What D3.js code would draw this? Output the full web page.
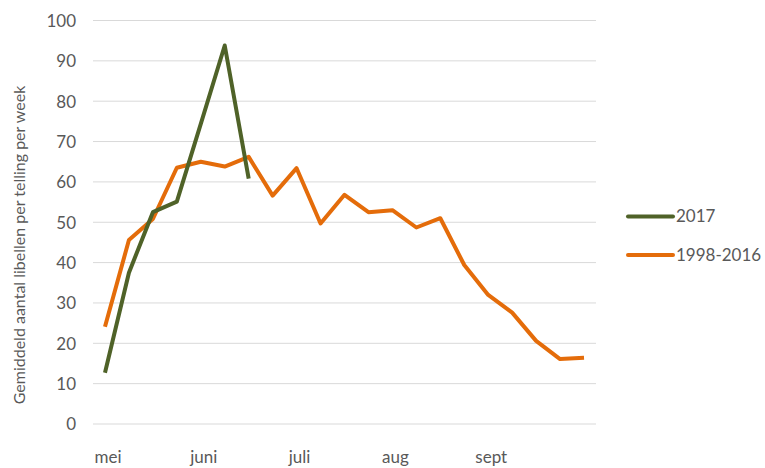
<!DOCTYPE html>
<html>
<head>
<meta charset="utf-8">
<script src="https://cdn.jsdelivr.net/npm/d3@7"></script>
<style>
  body { margin: 0; background: #fff; }
  svg text { font-family: Lato, "Open Sans", sans-serif; fill: #595959; }
</style>
</head>
<body>
<div id="chart"></div>
<script>
// week labels, only the first week of each month is labelled
var weeks = ["mei","w2","w3","w4","juni","w6","w7","w8","juli","w10","w11","w12",
             "aug","w14","w15","w16","sept","w18","w19","w20","w21"];
var monthLabels = {"mei":1,"juni":1,"juli":1,"aug":1,"sept":1};

var series2017 = [12.7, 37.5, 52.5, 55.1, 74.4, 93.8, 60.8];
var seriesAvg = [24.1, 45.6, 50.8, 63.5, 65.0, 63.8, 66.2, 56.6, 63.4, 49.7, 56.8,
                 52.5, 53.0, 48.7, 51.0, 39.4, 32.0, 27.6, 20.6, 16.1, 16.4];
var yTicks = [0,10,20,30,40,50,60,70,80,90,100];

var width = 765, height = 468;
var plotLeft = 93, plotRight = 596, plotTop = 20.5, plotBottom = 424;

var svg = d3.select("#chart").append("svg")
    .attr("width", width)
    .attr("height", height);

var x = d3.scaleBand().domain(weeks).range([plotLeft, plotRight]);
var y = d3.scaleLinear().domain([0,100]).range([plotBottom, plotTop]);

// gridlines
svg.append("g").selectAll("line")
    .data(yTicks)
    .enter().append("line")
    .attr("x1", plotLeft).attr("x2", plotRight)
    .attr("y1", d => y(d)).attr("y2", d => y(d))
    .style("stroke", "#d9d9d9")
    .style("stroke-width", 1);

// y axis labels
var yAxis = d3.axisLeft(y).tickValues(yTicks).tickSize(0).tickPadding(0);
var gy = svg.append("g").attr("transform", "translate(76,0)").call(yAxis);
gy.select(".domain").remove();
gy.selectAll("text").style("font-size", "17px").attr("dy", "0.35em");

// x axis labels
var xAxis = d3.axisBottom(x).tickSize(0).tickPadding(0)
    .tickFormat(d => monthLabels[d] ? d : "");
var gx = svg.append("g").attr("transform", "translate(3,451)").call(xAxis);
gx.select(".domain").remove();
gx.selectAll("text").style("font-size", "17px");

// axis title
svg.append("text")
    .attr("transform", "translate(25,245) rotate(-90)")
    .attr("text-anchor", "middle")
    .style("font-size", "16px")
    .text("Gemiddeld aantal libellen per telling per week");

var line = d3.line()
    .x((d,i) => x(weeks[i]) + x.bandwidth()/2)
    .y(d => y(d));

svg.append("path")
    .datum(seriesAvg)
    .attr("d", line)
    .style("fill", "none")
    .style("stroke", "#E46C0A")
    .style("stroke-width", 4)
    .style("stroke-linejoin", "round");

svg.append("path")
    .datum(series2017)
    .attr("d", line)
    .style("fill", "none")
    .style("stroke", "#4F6228")
    .style("stroke-width", 4)
    .style("stroke-linejoin", "round");

// legend
var legend = [["2017","#4F6228"],["1998-2016","#E46C0A"]];
var lg = svg.append("g").selectAll("g")
    .data(legend)
    .enter().append("g")
    .attr("transform", (d,i) => "translate(628," + (216.5 + i*38.5) + ")");
lg.append("line")
    .attr("x1", 0).attr("x2", 45)
    .style("stroke", d => d[1])
    .style("stroke-width", 4)
    .style("stroke-linecap", "round");
lg.append("text")
    .attr("x", 48)
    .attr("dy", "0.35em")
    .style("font-size", "17px")
    .text(d => d[0]);
</script>
</body>
</html>
